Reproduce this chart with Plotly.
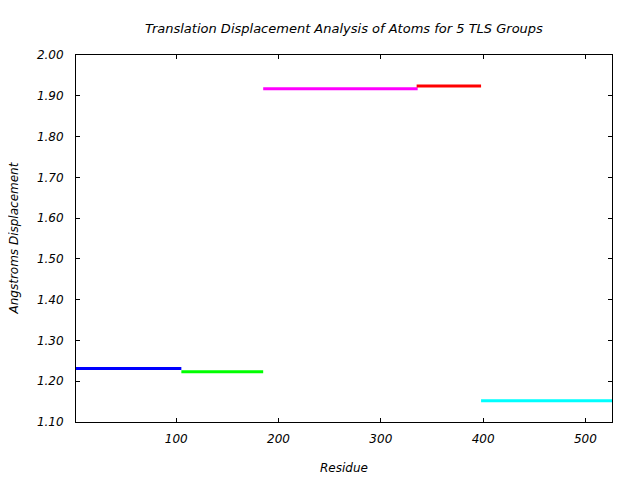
import plotly.graph_objects as go

# TLS groups: residue ranges and translation displacement (Angstroms)
group_start = [2, 105, 185, 335, 398]
group_end = [105, 185, 336, 398, 526]
displacement = [1.231, 1.223, 1.917, 1.924, 1.152]
colors = ["#0000ff", "#00ff00", "#ff00ff", "#ff0000", "#00ffff"]

FONT = "DejaVu Sans"

fig = go.Figure()
for i in range(len(group_start)):
    fig.add_trace(
        go.Scatter(
            x=[group_start[i], group_end[i]],
            y=[displacement[i], displacement[i]],
            mode="lines",
            line=dict(color=colors[i], width=3),
            showlegend=False,
        )
    )

axis_common = dict(
    showline=True,
    linecolor="black",
    linewidth=1,
    mirror="allticks",
    ticks="inside",
    ticklen=4,
    tickcolor="black",
    showgrid=False,
    zeroline=False,
    tickfont=dict(family=FONT, size=12, color="black", style="italic"),
)

fig.update_xaxes(range=[2, 526], tick0=0, dtick=100, ticklabelstandoff=6, **axis_common)
fig.update_yaxes(range=[1.10, 2.00], tick0=1.1, dtick=0.1, tickformat=".2f",
                 ticklabelstandoff=9, **axis_common)

# page body has an 8px margin, so the margins are shifted to compensate
fig.update_layout(
    width=640,
    height=480,
    plot_bgcolor="white",
    paper_bgcolor="white",
    margin=dict(l=68, r=36, t=47, b=66),
    annotations=[
        dict(text="Translation Displacement Analysis of Atoms for 5 TLS Groups",
             xref="paper", yref="paper", x=0.5, y=1, yshift=36, showarrow=False,
             font=dict(family=FONT, size=13, color="black", style="italic")),
        dict(text="Residue", xref="paper", yref="paper", x=0.5, y=0, yshift=-55,
             showarrow=False,
             font=dict(family=FONT, size=12, color="black", style="italic")),
        dict(text="Angstroms Displacement", xref="paper", yref="paper", x=0, y=0.5,
             xshift=-72, textangle=-90, showarrow=False,
             font=dict(family=FONT, size=12, color="black", style="italic")),
    ],
)

fig.write_html("out.html")
